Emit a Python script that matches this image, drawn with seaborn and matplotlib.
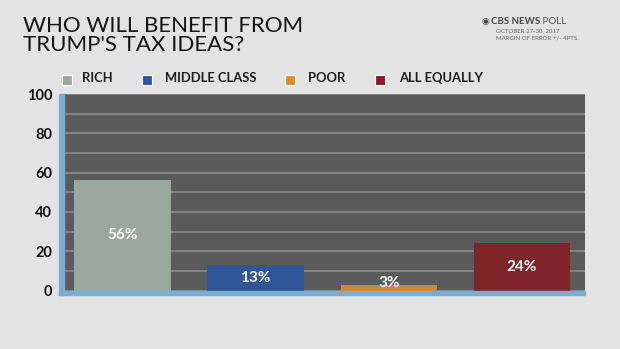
import matplotlib
matplotlib.use("Agg")
import matplotlib.pyplot as plt
from matplotlib.patches import Rectangle
import seaborn as sns
import pandas as pd

# Poll results
categories = ["RICH", "MIDDLE CLASS", "POOR", "ALL EQUALLY"]
values = [56, 13, 3, 24]
bar_colors = ["#9aa89b", "#2f5597", "#d4862f", "#7f2529"]
legend_colors = ["#9aa89c", "#2b55a6", "#e08a2e", "#8a1d23"]
y_ticks = [0, 20, 40, 60, 80, 100]

title_lines = ["WHO WILL BENEFIT FROM", "TRUMP'S TAX IDEAS?"]
source_head = "CBS NEWS"
source_tail = " POLL"
source_lines = ["OCTOBER 27-30, 2017", "MARGIN OF ERROR +/- 4PTS."]

df = pd.DataFrame({"group": categories, "pct": values})

sns.set_theme(style="white")
plt.rcParams["font.family"] = ["Lato", "DejaVu Sans"]

W, H = 620, 349
fig = plt.figure(figsize=(W / 100, H / 100), dpi=100)
fig.patch.set_facecolor("#e3e3e3")

ax_left, ax_right, ax_top, ax_bottom = 64, 585, 94, 290.5
ax = fig.add_axes([ax_left / W, 1 - ax_bottom / H,
                   (ax_right - ax_left) / W, (ax_bottom - ax_top) / H])
ax.set_facecolor("#5a5a5a")

sns.barplot(data=df, x="group", y="pct", hue="group", palette=bar_colors,
            order=categories, hue_order=categories, width=0.724,
            saturation=1, legend=False, ax=ax, zorder=3, linewidth=0)

ax.set_xlim(-0.438, 3.473)
ax.set_ylim(0, 100)
ax.set_yticks(y_ticks)
ax.set_yticks(range(10, 100, 20), minor=True)
ax.set_yticklabels([str(t) for t in y_ticks], fontsize=10.5, fontweight="bold",
                   color="#111111")
ax.tick_params(axis="y", which="both", length=0, pad=8.5)
ax.set_xticks([])
ax.set_xlabel("")
ax.set_ylabel("")
ax.grid(True, axis="y", which="both", color="#8e8e8e", linewidth=1.1, zorder=1)
ax.set_axisbelow(True)
for s in ax.spines.values():
    s.set_visible(False)

# Light-blue frame along the left and bottom edges
aw, ah = ax_right - ax_left, ax_bottom - ax_top
lw_px, bw_px = 5.5, 4.5
ax.add_patch(Rectangle((-lw_px / aw, -bw_px / ah), lw_px / aw, 1 + bw_px / ah,
                       transform=ax.transAxes, color="#79aed3", clip_on=False, zorder=5))
ax.add_patch(Rectangle((-lw_px / aw, -bw_px / ah), 1 + lw_px / aw, bw_px / ah,
                       transform=ax.transAxes, color="#79aed3", clip_on=False, zorder=5))

# Value labels inside the bars
for i, v in enumerate(values):
    ax.text(i, max(v / 2, 3.8), f"{v}%", ha="center", va="center",
            color="white", fontsize=11, fontweight="bold", zorder=6)

# Title
fig.text(23 / W, 1 - 16.5 / H, "\n".join(title_lines), ha="left", va="top",
         fontsize=16, fontweight="normal", color="#151515", linespacing=0.93)

# Source block
fig.text(485 / W, 1 - 21.7 / H, "\u25C9", ha="center", va="center",
         fontsize=6.5, color="#444444", family=["DejaVu Sans"])
t = fig.text(491 / W, 1 - 21.7 / H, source_head, ha="left", va="center",
             fontsize=7, fontweight="bold", color="#444444")
fig.canvas.draw()
bb = t.get_window_extent()
fig.text(bb.x1 / W, 1 - 21.7 / H, source_tail, ha="left", va="center",
         fontsize=7, color="#555555")
fig.text(496 / W, 1 - 31 / H, source_lines[0], ha="left", va="center",
         fontsize=4.4, color="#666666")
fig.text(496 / W, 1 - 37.5 / H, source_lines[1], ha="left", va="center",
         fontsize=4.4, color="#666666")

# Legend
sq_x = [62, 142, 285, 375.5]
txt_x = [82, 165, 308, 399]
for c, sx, tx, lab in zip(legend_colors, sq_x, txt_x, categories):
    fig.patches.append(Rectangle((sx / W, 1 - 85 / H), 10 / W, 10 / H,
                                 transform=fig.transFigure, facecolor=c,
                                 edgecolor="white", linewidth=0.8))
    fig.text(tx / W, 1 - 78.5 / H, lab, ha="left", va="center",
             fontsize=9.4, fontweight="bold", color="#1e1e1e")

fig.savefig("out.png", dpi=100, facecolor=fig.get_facecolor())
